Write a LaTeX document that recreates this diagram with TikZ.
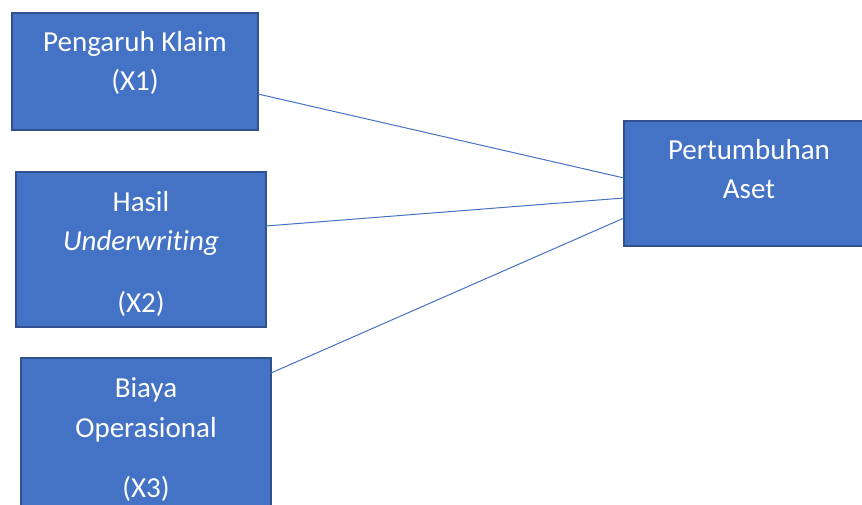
\documentclass[tikz,border=0pt]{standalone}
\usepackage{fontspec}
\setmainfont[Ligatures=NoCommon]{Carlito}
\definecolor{boxfill}{HTML}{4472C4}
\definecolor{boxedge}{HTML}{2F528F}
\tikzset{
  varbox/.style={draw=boxedge, fill=boxfill, line width=2pt, rectangle, inner sep=0pt, outer sep=0pt},
  txt/.style={text=white, anchor=base, inner sep=0pt, font=\fontsize{29}{35}\selectfont},
  link/.style={draw=boxfill, line width=1pt}
}
\begin{document}
\begin{tikzpicture}[x=1pt,y=1pt]
\useasboundingbox (0,0) rectangle (862,504);
\clip (0,0) rectangle (862,504);
\node[varbox, minimum width=246pt, minimum height=117pt] (b1) at (135,432.5) {};
\node[varbox, minimum width=250pt, minimum height=155pt] (b2) at (141,254.5) {};
\node[varbox, minimum width=250pt, minimum height=162pt] (b3) at (146,65) {};
\node[varbox, minimum width=250pt, minimum height=125pt] (b4) at (749,320.5) {};
\node[txt] (t11) at (135,452) {Pengaruh Klaim};
\node[txt] (t12) at (135,413) {(X1)};
\node[txt] (t21) at (141,292) {Hasil};
\node[txt] (t22) at (141,253) {\itshape Underwriting};
\node[txt] (t23) at (141,192) {(X2)};
\node[txt] (t31) at (146,107) {Biaya};
\node[txt] (t32) at (146,67) {Operasional};
\node[txt] (t33) at (146,7) {(X3)};
\node[txt] (t41) at (749,344) {Pertumbuhan};
\node[txt] (t42) at (749,305) {Aset};
\draw[link] ([yshift=-22.5pt]b1.east) -- ([yshift=5.5pt]b4.west);
\draw[link] ([yshift=23.5pt]b2.east) -- ([yshift=-14.5pt]b4.west);
\draw[link] ([yshift=-15pt]b3.north east) -- ([yshift=-34.5pt]b4.west);
\end{tikzpicture}
\end{document}
